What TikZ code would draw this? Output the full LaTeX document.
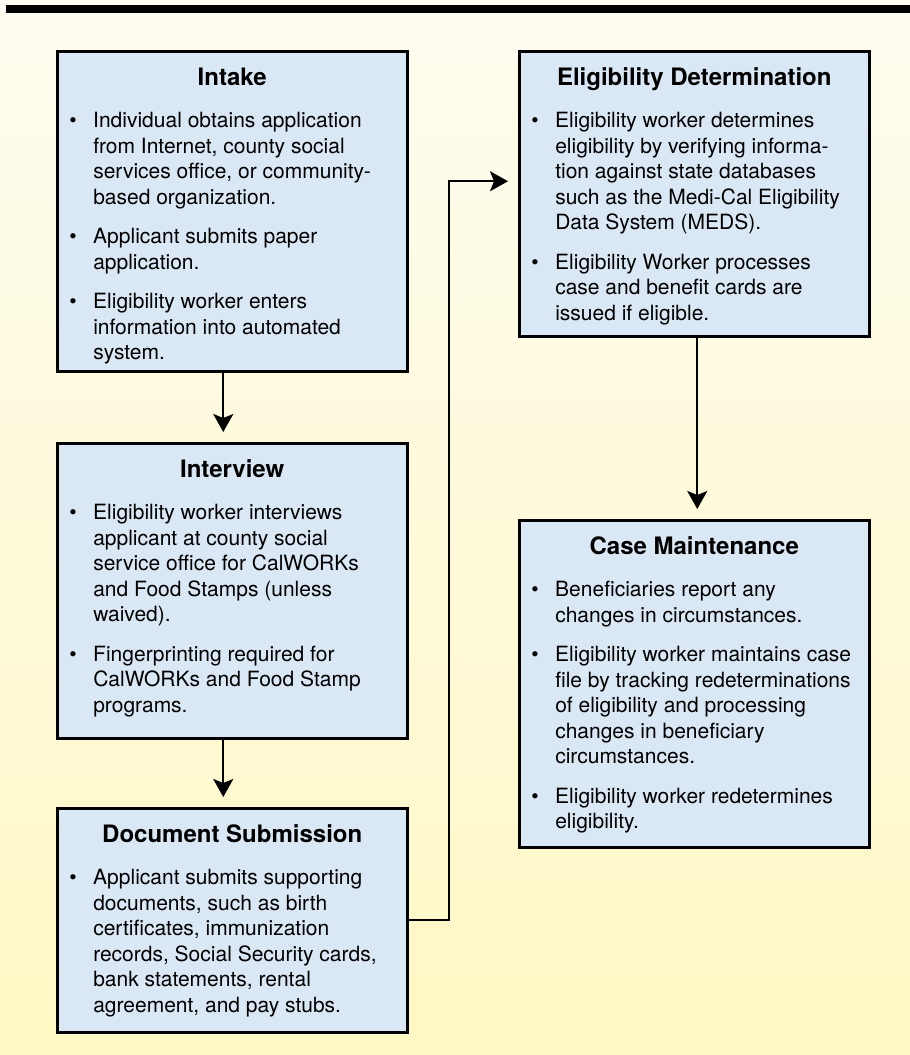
\documentclass[tikz,border=0pt]{standalone}
\usepackage{fontspec}
\setmainfont{TeX Gyre Heros}
\usetikzlibrary{arrows.meta}

\definecolor{bgtop}{RGB}{254,252,240}
\definecolor{bgbot}{RGB}{254,248,196}
\definecolor{boxfill}{RGB}{217,232,244}

\newcommand{\bulletitem}[1]{\par\vspace{14pt}\noindent\hangindent=36pt\hangafter=1\hspace*{12pt}\makebox[24pt][l]{\textbullet}#1\par}
\newcommand{\boxbody}[3]{%
\begin{minipage}[t][#1][t]{350pt}
\fontsize{21}{25.5}\selectfont\rightskip=0pt plus 1fil\hyphenpenalty=10000
{\centering\rule{0pt}{34pt}{\fontsize{24}{28}\selectfont\bfseries #2}\par}
\vspace{3pt}
#3
\end{minipage}}

\tikzset{
  stepbox/.style={draw, line width=2.5pt, fill=boxfill, inner sep=0pt, anchor=north west},
  flow/.style={-{Stealth[length=18pt,width=20pt,inset=4pt]}, line width=2pt, shorten >=10pt}
}

\begin{document}
\begin{tikzpicture}[x=1pt,y=-1pt]
\shade[top color=bgtop, bottom color=bgbot] (0,0) rectangle (910,1055);
\fill[black] (6,5) rectangle (910,13);

\node[stepbox] (intake) at (56,50) {\boxbody{320pt}{Intake}{%
\bulletitem{Individual obtains application\\from Internet, county social\\services office, or community-\\based organization.}
\bulletitem{Applicant submits paper\\application.}
\bulletitem{Eligibility worker enters\\information into automated\\system.}}};

\node[stepbox] (interview) at (56,442) {\boxbody{295pt}{Interview}{%
\bulletitem{Eligibility worker interviews\\applicant at county social\\service office for CalWORKs\\and Food Stamps (unless\\waived).}
\bulletitem{Fingerprinting required for\\CalWORKs and Food Stamp\\programs.}}};

\node[stepbox] (docsub) at (56,807) {\boxbody{224pt}{Document Submission}{%
\bulletitem{Applicant submits supporting\\documents, such as birth\\certificates, immunization\\records, Social Security cards,\\bank statements, rental\\agreement, and pay stubs.}}};

\node[stepbox] (eligdet) at (518,50) {\boxbody{285pt}{Eligibility Determination}{%
\bulletitem{Eligibility worker determines\\eligibility by verifying informa-\\tion against state databases\\such as the Medi-Cal Eligibility\\Data System (MEDS).}
\bulletitem{Eligibility Worker processes\\case and benefit cards are\\issued if eligible.}}};

\node[stepbox] (casemaint) at (518,519) {\boxbody{327pt}{Case Maintenance}{%
\bulletitem{Beneficiaries report any\\changes in circumstances.}
\bulletitem{Eligibility worker maintains case\\file by tracking redeterminations\\of eligibility and processing\\changes in beneficiary\\circumstances.}
\bulletitem{Eligibility worker redetermines\\eligibility.}}};

\draw[flow] ([xshift=-9pt]intake.south) -- ([xshift=-9pt]interview.north);
\draw[flow] ([xshift=-9pt]interview.south) -- ([xshift=-9pt]docsub.north);
\draw[flow] (docsub.east) -- ++(40,0) |- ([yshift=12.5pt]eligdet.west);
\draw[flow] ([xshift=3pt]eligdet.south) -- ([xshift=3pt]casemaint.north);
\end{tikzpicture}
\end{document}
